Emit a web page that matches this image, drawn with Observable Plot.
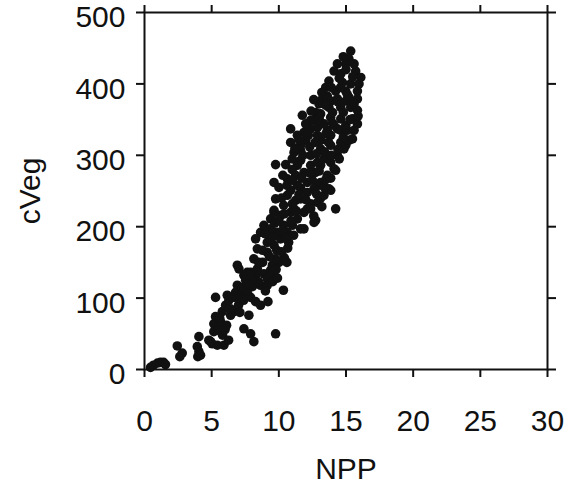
<!DOCTYPE html>
<html><head><meta charset="utf-8">
<script src="https://cdn.jsdelivr.net/npm/d3@7"></script>
<script src="https://cdn.jsdelivr.net/npm/@observablehq/plot@0.6"></script>
<style>html,body{margin:0;padding:0;background:#fff}#chart svg{display:block}</style>
</head><body><div id="chart"></div>
<script>
const npp = [0.45,0.67,0.97,1.19,1.42,1.56,2.44,2.81,2.63,4.05,3.93,4.05,3.97,4.17,4.79,5.04,5.42,5.91,4.92,5.29,
5.16,5.42,5.16,5.54,5.66,5.29,5.79,6.04,6.28,6.54,6.78,6.65,6.16,6.91,7.03,6.91,7.28,7.65,7.90,8.27,
8.64,9.19,7.77,7.40,7.90,8.14,9.76,10.34,7.65,8.27,8.89,9.39,8.64,8.03,9.14,7.40,7.90,8.40,9.39,9.14,
8.14,8.40,8.27,8.64,8.89,9.39,9.64,9.14,9.64,10.13,10.63,11.01,11.38,11.87,11.62,10.38,12.74,12.12,9.89,9.39,
9.14,10.01,9.52,10.43,14.23,7.53,8.49,9.54,8.79,9.76,8.79,9.84,10.66,9.39,10.73,10.36,11.10,10.13,10.88,10.36,
11.25,12.37,13.11,10.88,11.62,12.97,13.86,11.25,12.74,13.86,11.62,13.11,14.23,11.62,13.11,13.86,14.61,12.00,14.98,12.37,
14.61,13.86,14.98,10.88,11.38,11.87,12.37,12.87,13.61,14.36,15.10,15.60,15.22,14.61,13.86,13.11,12.37,11.62,11.13,10.88,
9.76,10.51,9.64,10.01,10.63,9.76,9.64,11.13,10.63,11.38,11.87,12.37,12.87,13.36,13.86,14.11,13.61,13.11,12.62,12.12,
11.62,12.87,13.36,13.73,12.37,11.38,12.12,14.36,14.85,15.48,15.35,15.22,14.98,14.36,14.11,14.61,15.72,16.10,15.97,15.35,
14.73,13.73,13.49,14.23,14.98,15.85,15.85,15.22,14.36,13.61,13.24,12.99,13.73,14.61,15.35,15.85,15.48,13.86,13.11,12.74,
12.62,13.36,14.11,14.98,11.75,12.00,15.85,5.81,6.11,6.41,7.00,7.38,6.26,12.62,11.87,
9.0,9.8,8.5,9.3,10.2,8.0,10.6,9.9,
9.0,9.7,10.3,10.0,10.9,11.3,9.5,10.5,11.0,10.4,
10.2,10.6,11.0,11.5,12.0,12.5,12.8,13.4,11.7,12.3,13.0,13.5,11.0,10.3,12.6,13.2,
11.0,11.8,12.3,12.7,13.4,13.9,14.5,14.8,12.9,11.5,12.2,13.7,14.0,15.3,11.2,12.8,13.5,14.4,
12.4,13.0,13.5,14.0,14.4,14.8,15.1,15.6,13.9,14.6,15.5,14.5,15.0,13.2,12.6,15.9,
14.8,15.6,
6.4,6.9,5.6,7.3,7.7,6.0,7.1];
const cveg = [3,6,9,10,10,7,33,23,18,46,32,25,18,20,41,36,34,34,39,74,
64,55,53,57,67,101,81,90,97,101,108,81,104,118,141,146,106,108,101,95,
90,95,76,57,50,39,50,111,136,132,134,139,118,116,127,132,136,141,132,118,
155,169,183,192,202,211,223,178,174,183,192,202,211,220,197,157,209,225,192,197,
164,150,146,155,225,125,123,123,150,155,167,167,170,181,178,202,188,216,220,230,
237,232,240,251,254,258,251,272,276,268,293,286,279,307,321,328,335,321,314,349,
351,376,376,337,328,332,337,328,335,337,335,335,321,318,314,309,300,314,304,318,
287,287,262,255,267,239,220,225,244,286,276,286,290,295,290,281,272,262,253,248,
239,234,244,253,225,258,262,300,309,323,446,435,428,428,418,414,418,409,400,400,
402,404,395,390,390,390,379,381,379,383,379,372,367,367,367,363,351,353,358,360,
349,344,342,342,356,344,344,48,62,76,90,97,41,206,197,
110,140,150,158,165,125,150,128,
190,205,195,210,208,222,185,185,232,218,
240,258,265,245,238,265,246,255,268,275,278,266,280,272,215,228,
295,300,312,318,305,300,295,325,340,322,328,318,345,350,310,302,330,308,
362,352,370,360,375,360,385,372,395,395,410,408,420,388,378,355,
438,428,
85,100,72,115,120,56,80];
const xTicks = [0, 5, 10, 15, 20, 25, 30];
const yTicks = [0, 100, 200, 300, 400, 500];
const xLabel = "NPP";
const yLabel = "cVeg";

const points = npp.map((v, i) => ({NPP: v, cVeg: cveg[i]}));
const ink = "#111";

const chart = Plot.plot({
  width: 568,
  height: 483,
  marginLeft: 144,
  marginRight: 21,
  marginTop: 12,
  marginBottom: 114,
  style: {fontFamily: "'Liberation Sans', Arial, Helvetica, sans-serif", fontSize: "30px", color: ink, background: "white"},
  x: {domain: [0, 30]},
  y: {domain: [0, 500]},
  marks: [
    Plot.dot(points, {x: "NPP", y: "cVeg", r: 4.8, fill: ink, stroke: "none"}),
    Plot.frame({stroke: ink, strokeWidth: 2}),
    Plot.axisX({anchor: "bottom", ticks: xTicks, tickSize: 8, tickPadding: 32, strokeWidth: 2, fontSize: 30,
                label: xLabel, labelArrow: "none", labelAnchor: "center", labelOffset: 109}),
    Plot.axisX({anchor: "top", ticks: xTicks, tickSize: 8, strokeWidth: 2, tickFormat: () => "", label: null}),
    Plot.axisY({anchor: "left", ticks: yTicks, tickSize: 8, strokeWidth: 2, tickFormat: () => "", label: null}),
    Plot.axisY({anchor: "left", ticks: yTicks, tickSize: 0, tickPadding: 19, dy: 5, fontSize: 30,
                label: yLabel, labelArrow: "none", labelAnchor: "center", labelOffset: 126}),
    Plot.axisY({anchor: "right", ticks: yTicks, tickSize: 8, strokeWidth: 2, tickFormat: () => "", label: null})
  ]
});
document.getElementById("chart").appendChild(chart);
</script>
</body></html>
